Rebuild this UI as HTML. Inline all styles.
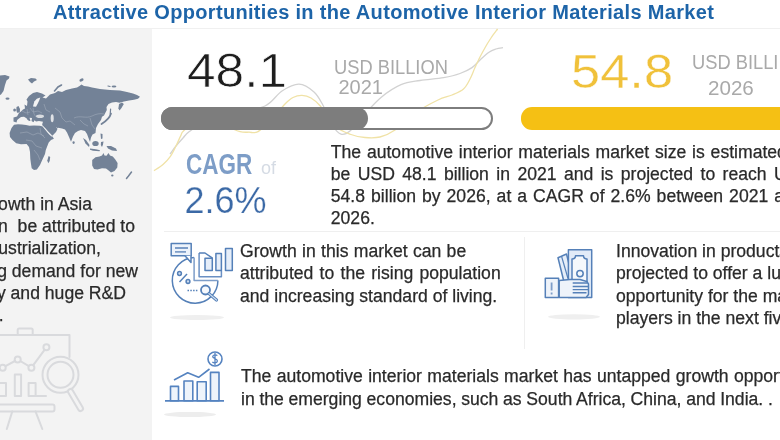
<!DOCTYPE html>
<html><head><meta charset="utf-8">
<style>
*{margin:0;padding:0;box-sizing:border-box}
html,body{width:780px;height:440px;overflow:hidden;background:#fff}
body{position:relative;font-family:"Liberation Sans",Arial,sans-serif;color:#2e2e2e}
.a{position:absolute;white-space:nowrap}
.t{font-size:17.6px;line-height:22.3px;color:#2a2a2a;-webkit-text-stroke:0.25px #2a2a2a}
</style></head><body>

<!-- title -->
<div class="a" id="title" style="left:53px;top:2px;font-weight:bold;font-size:20px;line-height:20px;letter-spacing:0.32px;color:#1d64a8">Attractive Opportunities in the Automotive Interior Materials Market</div>
<div class="a" style="left:0;top:28px;width:780px;height:1px;background:#f0f0f0"></div>

<!-- left panel -->
<div class="a" style="left:0;top:29px;width:152px;height:411px;background:#f3f3f3"></div>


<!-- world map -->
<svg class="a" style="left:0;top:0" width="152" height="200" viewBox="0 0 152 200">
<g fill="#738297">
<path d="M0,75.5 L5,75 L9.5,76.5 L9,78.5 L6.5,80.5 L5,85 L3.5,91 L1,94.5 L0,95Z"/>
<ellipse cx="7.5" cy="98.6" rx="2" ry="1.2"/>
<path d="M28,79.5 L31,78 L35.5,78.5 L37,80 L34,81.5 L32,83.5 L30,82Z"/>
<ellipse cx="14.6" cy="110" rx="1.4" ry="1.5"/>
<path d="M16.5,107 L18.5,106 L20,109 L19.8,112.5 L17,112.8 L16.3,110Z"/>
<path d="M13.5,121.5 L13.5,117.5 L17,116.5 L19,113 L21,111.5 L23,109.5 L25,108.5 L24.5,104.5 L27,106 L27.5,101.5 L26.5,99.5 L29,96 L33,93 L37,92 L42,93.5 L45.5,95.5 L42.5,97.5 L46,98.5 L50,94.5 L55,93 L58,91 L62,92 L66,90 L72,88.5 L77,87.5 L79.5,86 L81.5,84.5 L84,86 L88,86.6 L92,87.5 L100,89 L110,90 L120,90.4 L127,92 L133,93.5 L137,95 L140,96.8 L138,98.8 L134,99.8 L129,100.5 L124,101.5 L119.5,102.8 L116,102 L112,102.5 L108.5,104 L106.5,107 L106.8,110 L105.5,112.5 L104,115.5 L102,116.8 L101,120 L98,124 L96,128 L95.5,133 L92.5,134.5 L91,137.5 L90,142 L88.5,138 L87,134 L85,131 L81,130 L78,131 L75,133 L73,136.5 L71,141.8 L69,137 L67,132.5 L65,129.5 L62,128.5 L58,127.8 L57,130 L56,132 L52.4,135.8 L48.7,132 L45,128 L42.8,126.2 L42,124.5 L43,121.8 L39,121 L36,121.6 L34.5,120.2 L33.5,122.3 L31.5,121 L32,118 L29.5,117.8 L30.5,120.8 L28.5,121.2 L26.5,118.3 L24,116.8 L21,117 L19,118.5 L17.2,120 L16.5,122.6Z"/>
<path d="M14,124.8 L11.5,128 L9.6,133 L10,137 L12.5,140 L16.2,143.2 L21,144.2 L26.6,144 L29,147 L30,152 L30.3,158.7 L31,164 L31.7,168.3 L34,170 L36.9,169.5 L40,165 L42.8,158.7 L45,154 L45.8,149.9 L48.7,142.5 L51,140 L53.9,138.8 L52.5,136.5 L50,135 L47.5,132.5 L45,129.5 L42.8,126.5 L39.9,125.8 L34,125.5 L29.5,125.8 L26,125 L22,124.5 L18,124.3Z"/>
<path d="M48.6,156 L50.2,157 L49.7,161 L48.2,163.2 L47.3,160.5Z"/>
<ellipse cx="73.6" cy="142.6" rx="1.1" ry="1.4"/>
<path d="M83,138 L86,140 L89.5,145 L89,147 L85.5,143.5Z"/>
<ellipse cx="95.5" cy="143.5" rx="3.2" ry="2.6"/>
<path d="M90,148.5 L96,149.2 L100,150.2 L99.5,151.2 L93,150.8 L90,149.8Z"/>
<path d="M101,142 L103.5,141.5 L103,144.5 L102,147 L100.8,145Z"/>
<path d="M100.5,133.5 L102.5,134 L102.5,138.5 L101,139Z"/>
<path d="M106.5,146 L111,146 L116,148.5 L117,151 L112,150.5 L108,148.5Z"/>
<path d="M92.2,160 L95.5,157.3 L99.5,156.5 L102,155.6 L103.5,153 L104.5,155.5 L106.5,155.8 L108.5,153 L110,155.5 L112.8,156.5 L115.3,159.5 L117.6,163 L117.3,167.5 L114.5,171 L111,172.5 L108,170 L106,168.6 L102,168.2 L97.5,169.5 L94,169 L92.2,165.5Z"/>
<ellipse cx="112.3" cy="175.5" rx="1.2" ry="1"/>
<ellipse cx="81.5" cy="80" rx="2.2" ry="1.4" transform="rotate(-25 81.5 80)"/>
<ellipse cx="114" cy="86.5" rx="2.4" ry="1"/>
<path d="M119,104 L122,102.5 L123.8,104 L121.5,108 L119.5,110.5 L118.4,108.5Z"/>
</g>
<g fill="none" stroke="#738297" stroke-linecap="round">
<path d="M54.5,91 L58,87 L61.5,85" stroke-width="1.6"/>
<path d="M111,113.5 Q109.5,119 101.5,124" stroke-width="1.8"/>
<path d="M110.6,109 L110.2,114" stroke-width="1.2"/>
<path d="M131.5,172 L128.5,176 L126.5,178.5" stroke-width="1.5"/>
<path d="M108,86 L110,86.5" stroke-width="1.2"/>
</g>
<g fill="none" stroke="#b4bcc8" stroke-width="0.5" opacity="0.8">
<path d="M74,118 C80,115 86,119 92,116 C96,114 100,113 104,114"/>
<path d="M60,112 L62,118 L66,122 L70,121 L75,125"/>
<path d="M30,108 L33,112 L38,111 L42,113"/>
<path d="M20,133 L27,132 L33,135 L38,133 L44,136"/>
<path d="M26,140 L32,141 L36,146 L42,148"/>
<path d="M34,150 L38,155 L40,160"/>
<path d="M40,128 L41,134 L45,138"/>
<path d="M22,111 L26,113 L30,112 M27,109 L28,115 M33,108 L34,114 L36,117 M44,104 L46,110 L50,112 M55,108 L60,112"/>
<path d="M80,120 L84,124 L88,126 M90,118 L92,125 L95,129"/>
</g>
<path d="M42.3,125.5 L47,131 L51.8,136.6" fill="none" stroke="#e9ebee" stroke-width="0.9"/>
<path d="M56.5,127.6 L59,129.6 L61.5,129.8" fill="none" stroke="#e9ebee" stroke-width="0.8"/>
<g fill="#f3f3f3"><path d="M33,106.5 L34.3,101.5 L36.8,98.8 L40.3,97.6 L39.2,100.5 L37.8,103.5 L36,106.8Z"/><ellipse cx="40" cy="116.3" rx="4" ry="1.8" opacity="0.8"/><ellipse cx="52.2" cy="118.2" rx="1.5" ry="4" opacity="0.85"/><path d="M17,121.5 L21,120 L28,120.3 L33,122.6 L42,123.2 L42.5,124.5 L34,124.6 L26,124 L18,123.5Z" opacity="0.85"/></g>
</svg>

<!-- decorative curves -->
<svg class="a" style="left:0;top:0" width="780" height="440" viewBox="0 0 780 440">
  <path d="M170,154 C171.0,152.7 173.8,148.7 176.0,146.0 C178.2,143.3 180.8,140.4 183.0,138.0 C185.2,135.6 185.3,134.5 189.0,131.8 C192.7,129.1 197.3,125.1 205.0,122.0 C212.7,118.9 225.0,115.7 235.0,113.0 C245.0,110.3 257.2,109.7 265.0,106.0 C272.8,102.3 276.3,94.6 282.0,91.0 C287.7,87.4 293.7,84.0 299.0,84.2 C304.3,84.4 310.0,88.5 314.0,92.0 C318.0,95.5 319.8,99.6 323.0,105.3 C326.2,111.0 330.0,121.2 333.0,126.0 C336.0,130.8 338.2,133.4 341.0,134.2 C343.8,135.0 346.2,134.2 350.0,131.0 C353.8,127.8 358.8,120.6 364.0,115.0 C369.2,109.4 374.8,102.5 381.0,97.4 C387.2,92.4 394.5,87.5 401.0,84.7 C407.5,81.9 412.9,81.7 420.0,80.5 C427.1,79.3 436.9,78.8 443.6,77.6 C450.3,76.4 455.3,75.2 460.0,73.5 C464.7,71.8 468.5,70.0 472.0,67.6 C475.5,65.2 478.2,61.6 481.0,59.0 C483.8,56.4 486.5,53.9 489.0,52.2 C491.5,50.5 493.7,49.8 496.0,49.0 C498.3,48.2 501.8,47.9 503.0,47.7" fill="none" stroke="#d2d2d2" stroke-width="1.3"/>
  <path d="M154,170.7 C155.5,169.7 160.3,166.9 163.0,164.5 C165.7,162.1 168.2,159.4 170.4,156.3 C172.6,153.2 174.3,149.4 176.0,146.0 C177.7,142.6 179.4,138.4 180.7,135.9 C182.0,133.4 180.5,133.8 183.7,130.8 C186.9,127.8 193.1,118.8 200.0,118.0 C206.9,117.2 218.3,123.7 225.0,126.0 C231.7,128.3 236.0,130.6 240.0,131.6 C244.0,132.6 246.0,132.2 249.0,132.2 C252.0,132.2 254.2,133.8 258.0,131.6 C261.8,129.4 267.5,123.6 272.0,119.0 C276.5,114.4 281.5,107.6 285.0,104.0 C288.5,100.4 290.2,98.9 293.0,97.5 C295.8,96.1 299.0,95.3 302.0,95.4 C305.0,95.5 307.9,96.2 311.0,98.0 C314.1,99.8 316.3,101.3 320.3,106.0 C324.3,110.7 329.9,121.2 335.0,126.0 C340.1,130.8 346.0,132.6 351.0,134.5 C356.0,136.4 360.2,137.1 365.0,137.5 C369.8,137.9 375.0,138.2 380.0,137.0 C385.0,135.8 389.2,134.0 395.0,130.0 C400.8,126.0 407.8,118.0 415.0,113.0 C422.2,108.0 431.8,103.0 438.0,100.0 C444.2,97.0 447.8,96.8 452.0,95.0 C456.2,93.2 460.5,91.7 463.5,89.0 C466.5,86.3 468.1,82.6 470.0,79.0 C471.9,75.4 473.3,71.3 475.0,67.6 C476.7,63.9 478.3,60.3 480.0,57.0 C481.7,53.7 483.2,50.9 485.0,47.7 C486.8,44.5 488.9,41.1 491.0,38.0 C493.1,34.9 496.5,30.5 497.6,29.0" fill="none" stroke="#f0e2a6" stroke-width="1.3"/>
</svg>


<!-- icon 1: pie + bars -->
<svg class="a" style="left:160px;top:235px" width="80" height="90" viewBox="160 235 80 90">
<ellipse cx="197" cy="317.5" rx="27" ry="2.4" fill="#efefef"/>
<g fill="none" stroke="#5580b8" stroke-width="1.5" stroke-linejoin="round">
<path d="M194.1,257.6 A22.8,22.8 0 1 0 217.9,280.4"/>
<path d="M194.1,257.6 L194.1,280.4 L217.9,280.4" stroke="#7d9dc8"/>
<rect x="171.2" y="243.4" width="20" height="12.4" fill="#edf3fb"/>
<path d="M175,248 L188,248 M175,251.9 L186,251.9" stroke-width="1.8" stroke="#7d9dc8"/>
<path d="M185,255.8 L191,262.5 L191,255.8" fill="#fff"/>
<path d="M199.1,253 L199.1,276.7 L221.4,276.7 L221.4,270.4" stroke="#6a90c4"/>
<path d="M199.1,253 L205,253 L212.5,258.2"/>
<rect x="205" y="258.2" width="7.3" height="12.2" fill="#e6eef9"/>
<rect x="215.9" y="253.5" width="5.5" height="16.9" fill="#e6eef9"/>
<rect x="225.5" y="248.5" width="6.8" height="21.9" fill="#e6eef9"/>
<circle cx="179.5" cy="273.5" r="1.9" fill="#cddcf0"/>
<circle cx="188" cy="281.5" r="1.9" fill="#cddcf0"/>
<path d="M179.5,282 L187,274"/>
<path d="M187.5,290.5 L198.5,290.5" stroke-dasharray="1.5 1.3" stroke-width="1.3"/>
<circle cx="205.5" cy="290" r="4.5" fill="#f6f9fd" stroke-width="1.8"/>
<path d="M209,293.6 L216.5,300" stroke-width="3.2" stroke-linecap="round"/>
<path d="M209,293.6 L216.5,300" stroke-width="1.2" stroke-linecap="round" stroke="#cfdff2"/>
</g>
</svg>

<!-- icon 2: money in hand -->
<svg class="a" style="left:538px;top:242px" width="70" height="80" viewBox="538 242 70 80">
<ellipse cx="574" cy="316.8" rx="26" ry="2.6" fill="#efefef"/>
<g fill="none" stroke="#5580b8" stroke-width="1.5" stroke-linejoin="round">
<path d="M558,257.7 L566.5,254 L573,280 L564,282Z" fill="#e6eef9"/>
<path d="M561.5,256.2 L568,278.5" stroke-width="1.2"/>
<rect x="568.4" y="249.7" width="23.3" height="47.8" fill="#e2ebf8"/>
<path d="M572,259 Q575.5,259 575.5,255.8 L583.5,255.8 Q583.5,259 587,259 L587,282 L572,282Z" fill="#f5f8fc"/>
<circle cx="580" cy="273.6" r="3.2"/>
<path d="M559.2,280.4 L570,279.5 L580,279.5 L586.8,281.5 L588.5,284 L588.5,294.5 L586,297.5 L559.2,297.5Z" fill="#eef3fa"/>
<path d="M572.7,283 L587.5,283 M572.7,286.5 L588.5,286.5 M572.7,289.6 L588.5,289.6 M572.7,292.8 L586.5,292.8" stroke-width="1.4"/>
<rect x="545.3" y="278.2" width="13.3" height="19.3" fill="#eef3fa"/>
<path d="M551.6,282.5 L551.6,290.5 M551.6,292.6 L551.6,294.6" stroke-width="1.8" stroke="#7d9dc8"/>
</g>
</svg>

<!-- icon 3: bars + coin -->
<svg class="a" style="left:160px;top:345px" width="70" height="80" viewBox="160 345 70 80">
<ellipse cx="190" cy="414.5" rx="26" ry="2.6" fill="#ededed"/>
<g fill="none" stroke="#5583c0" stroke-width="1.6" stroke-linejoin="round">
<path d="M165,400.8 L224,400.8" stroke-width="1.8"/>
<rect x="170.5" y="386.4" width="8" height="14.4" fill="#eef4fb"/>
<rect x="184" y="381" width="8.8" height="19.8" fill="#eef4fb"/>
<rect x="197.2" y="381.8" width="9" height="19" fill="#eef4fb"/>
<rect x="210.5" y="372.4" width="8.5" height="28.4" fill="#eef4fb"/>
<path d="M174,380 L187.7,372.7 L198.6,377.3 L209.5,369"/>
<circle cx="215" cy="359" r="7" fill="#fff"/>
<path d="M217.3,355.7 C216.5,354.5 213,354.3 212.7,356.5 C212.5,358.6 217.6,358.4 217.4,361 C217.2,363.3 213.4,363.2 212.4,361.8 M215,353 L215,365" stroke-width="1.3"/>
</g>
</svg>

<!-- board icon (left panel) -->
<svg class="a" style="left:0;top:320px" width="100" height="120" viewBox="0 320 100 120">
<g fill="none" stroke="#d9dadd" stroke-width="2" stroke-linejoin="round" stroke-linecap="round">
<rect x="17.7" y="328.4" width="15" height="6.6" rx="1.5"/>
<path d="M-2,335 L69.5,335 L69.5,357"/>
<path d="M2.7,367.7 L17.7,359.5 L31.4,367.7 L46.4,347.3"/>
<circle cx="2.7" cy="367.7" r="3" fill="#f3f3f3"/>
<circle cx="17.7" cy="359.5" r="3" fill="#f3f3f3"/>
<circle cx="31.4" cy="367.7" r="3" fill="#f3f3f3"/>
<circle cx="46.4" cy="347.3" r="3" fill="#f3f3f3"/>
<rect x="-2" y="383" width="8" height="13"/>
<rect x="14.8" y="374.4" width="6.3" height="21.6"/>
<rect x="28.6" y="383" width="7" height="13"/>
<rect x="-4" y="404.5" width="58.5" height="6.9" rx="2"/>
<path d="M12.3,411.4 L6.8,429 M35.5,411.4 L42.3,429"/>
<circle cx="60.5" cy="374.8" r="18" fill="#f3f3f3"/>
<circle cx="60.5" cy="374.8" r="13"/>
<path d="M70.5,391.5 L80.5,408.5" stroke-width="7"/>
<path d="M70.5,391.5 L80.5,408.5" stroke-width="3" stroke="#f3f3f3"/>
<path d="M36,396 L46,396"/>
</g>
</svg>

<!-- 48.1 block -->
<div class="a" style="left:187px;top:46px;font-size:49px;line-height:49px;color:#1e1e1e;-webkit-text-stroke:0.7px #fff;transform:scaleX(1.05);transform-origin:0 0">48.1</div>
<div class="a" style="left:333.7px;top:57px;font-size:20px;line-height:20px;color:#a9a9a9;transform:scaleX(0.915);transform-origin:0 0">USD BILLION</div>
<div class="a" style="left:338.5px;top:77px;font-size:20px;line-height:20px;color:#a9a9a9;transform:scaleX(1);transform-origin:0 0">2021</div>
<div class="a" style="left:161px;top:107px;width:332px;height:23px;border:2px solid #7d7d7d;border-radius:12px;background:#fff"></div>
<div class="a" style="left:161px;top:107px;width:207px;height:23px;border-radius:12px;background:#7d7d7d"></div>

<!-- 54.8 block -->
<div class="a" style="left:571px;top:47px;font-size:49px;line-height:49px;color:#f0c13a;-webkit-text-stroke:0.4px #fff;transform:scaleX(1.07);transform-origin:0 0">54.8</div>
<div class="a" style="left:691.8px;top:52px;font-size:20px;line-height:20px;color:#a9a9a9;transform:scaleX(0.915);transform-origin:0 0">USD BILLI<span style="padding-left:6px">ON</span></div>
<div class="a" style="left:708px;top:77.5px;font-size:20px;line-height:20px;color:#a9a9a9;transform:scaleX(1.03);transform-origin:0 0">2026</div>
<div class="a" style="left:520.5px;top:107px;width:300px;height:23px;border-radius:11px;background:#f5c014"></div>

<!-- CAGR -->
<div class="a" style="left:185.5px;top:150.2px;font-weight:bold;font-size:29px;line-height:29px;color:#7d9dc7;transform:scaleX(0.775);transform-origin:0 0">CAGR</div>
<div class="a" style="left:261px;top:159px;font-size:18px;line-height:18px;color:#d5dbe4">of</div>
<div class="a" style="left:184.5px;top:183.3px;font-size:36px;line-height:36px;color:#3b69a6;-webkit-text-stroke:0.25px #fff">2.6%</div>

<!-- top paragraph -->
<div class="a t" style="left:330.8px;top:140.5px;word-spacing:0.9px">The automotive interior materials market size is estimated to</div>
<div class="a t" style="left:330.8px;top:162.8px;word-spacing:2.5px">be USD 48.1 billion in 2021 and is projected to reach USD</div>
<div class="a t" style="left:330.8px;top:185.1px;word-spacing:1.1px">54.8 billion by 2026, at a CAGR of 2.6% between 2021 and</div>
<div class="a t" style="left:330.8px;top:207.4px">2026.</div>

<div class="a" style="left:164px;top:231px;width:616px;height:1px;background:#efefef"></div>
<div class="a" style="left:524px;top:237px;width:1px;height:112px;background:#efefef"></div>

<!-- growth text -->
<div class="a t" style="left:240px;top:240px;word-spacing:0.45px">Growth in this market can be</div>
<div class="a t" style="left:240px;top:262.3px;word-spacing:1.35px">attributed to the rising population</div>
<div class="a t" style="left:240px;top:284.6px">and increasing standard of living.</div>

<!-- innovation text -->
<div class="a t" style="left:616px;top:240px">Innovation in products is<br>projected to offer a lucrative<br>opportunity for the market<br>players in the next five years.</div>

<!-- bottom text -->
<div class="a t" style="left:241px;top:365.3px;word-spacing:0.5px">The automotive interior materials market has untapped growth opportunities</div>
<div class="a t" style="left:241px;top:387.6px;word-spacing:-0.2px">in the emerging economies, such as South Africa, China, and India. .</div>

<!-- left panel text -->
<div class="a t" style="right:688px;top:192.6px">Growth in Asia</div>
<div class="a t" style="right:645px;top:214.8px">can &nbsp;be attributed to</div>
<div class="a t" style="right:679px;top:237px">industrialization,</div>
<div class="a t" style="right:642px;top:259.7px">growing demand for new</div>
<div class="a t" style="right:654px;top:281.8px">technology and huge R&amp;D</div>
<div class="a t" style="left:-95px;top:304.4px">investments.</div>

</body></html>
